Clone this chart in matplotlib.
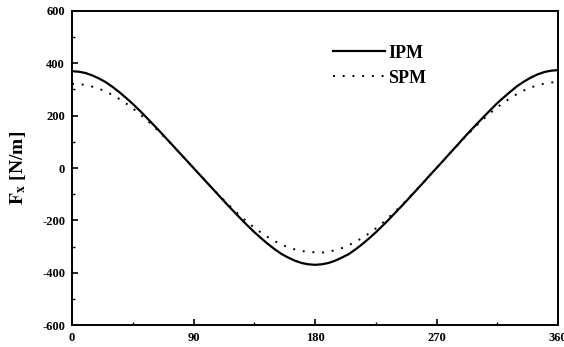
import numpy as np
import matplotlib
matplotlib.use('Agg')
import matplotlib.pyplot as plt
from matplotlib.ticker import MultipleLocator

# angle [deg] and force values
angle = list(range(0, 361, 5))
ipm = [370, 368, 363, 354, 342, 328, 310, 290, 268, 245, 220, 194, 167, 140, 112, 84, 56, 28,
       0, -28, -56, -84, -112, -140, -167, -194, -220, -245, -268, -290, -310, -328, -342, -354, -363, -368,
       -370, -368, -363, -354, -342, -329, -311, -291, -269, -246, -221, -195, -168, -141, -113, -85, -57, -28,
       0, 28, 57, 85, 114, 142, 169, 196, 222, 248, 271, 293, 314, 331, 346, 358, 367, 372, 374]
spm = [322, 321, 317, 311, 303, 292, 279, 264, 247, 228, 207, 185, 161, 136, 110, 83, 56, 28,
       0, -28, -56, -83, -110, -136, -161, -185, -207, -228, -247, -264, -279, -292, -303, -311, -317, -321,
       -322, -323, -321, -313, -306, -295, -282, -267, -250, -231, -210, -187, -163, -138, -111, -84, -57, -28,
       0, 28, 57, 84, 112, 138, 164, 188, 211, 232, 251, 268, 284, 297, 308, 316, 323, 327, 328]
xticks = [0, 90, 180, 270, 360]
yticks = [-600, -400, -200, 0, 200, 400, 600]

plt.rcParams['font.family'] = ['Liberation Serif', 'DejaVu Serif']
plt.rcParams['mathtext.fontset'] = 'stix'
plt.rcParams['axes.unicode_minus'] = False

fig = plt.figure(figsize=(5.64, 3.47), dpi=100)
ax = fig.add_axes([0.1277, 0.0634, 0.8617, 0.9049])

ax.plot(angle, ipm, color='black', lw=1.6, label='IPM')
ax.plot(angle, spm, color='black', lw=1.4, linestyle=(0, (1, 4)), label='SPM')

ax.set_xlim(0, 360)
ax.set_ylim(-600, 600)
ax.set_xticks(xticks)
ax.set_yticks(yticks)
ax.xaxis.set_minor_locator(MultipleLocator(45))
ax.yaxis.set_minor_locator(MultipleLocator(100))
ax.tick_params(which='major', direction='in', length=4, width=1.2, labelsize=9, pad=5)
ax.tick_params(which='minor', direction='in', length=2.5, width=1.0)
for lab in ax.get_xticklabels() + ax.get_yticklabels():
    lab.set_fontweight('bold')
for s in ax.spines.values():
    s.set_linewidth(1.4)

ax.set_ylabel(r'$\mathbf{F_x}$ [N/m]', fontsize=14, fontweight='bold', labelpad=10)

ax.legend(loc='upper left', bbox_to_anchor=(0.537, 0.893), frameon=False,
          borderaxespad=0, borderpad=0,
          handlelength=2.9, labelspacing=0.45, handletextpad=0.15,
          prop={'weight': 'bold', 'size': 13})

plt.savefig('out.png', dpi=100)
